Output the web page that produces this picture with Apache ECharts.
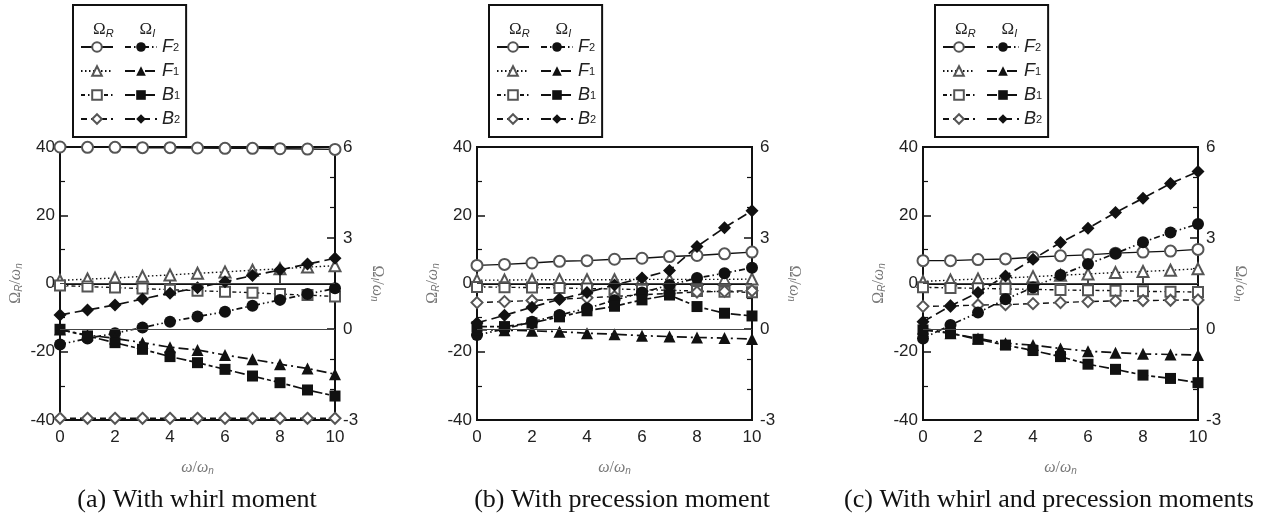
<!DOCTYPE html>
<html>
<head>
<meta charset="utf-8">
<script src="https://cdn.jsdelivr.net/npm/echarts@6/dist/echarts.min.js"></script>
<style>
html,body{margin:0;padding:0;background:#fff}
#chart{width:1267px;height:515px}
</style>
</head>
<body>
<div id="chart"></div>
<script>
/* rotation speed ratio w/wn */
var omega = [0, 1, 2, 3, 4, 5, 6, 7, 8, 9, 10];

/* (a) whirl moment : real parts (left axis) */
var aF2R = [40.0, 39.9, 39.9, 39.8, 39.8, 39.7, 39.6, 39.6, 39.5, 39.4, 39.3];
var aF1R = [0.9, 1.3, 1.6, 2.1, 2.5, 3.0, 3.4, 3.9, 4.3, 4.8, 5.2];
var aB1R = [-0.6, -0.9, -1.2, -1.5, -1.8, -2.1, -2.4, -2.7, -3.1, -3.4, -3.8];
var aB2R = [-39.5, -39.5, -39.5, -39.5, -39.5, -39.5, -39.5, -39.5, -39.5, -39.5, -39.5];
/* (a) imaginary parts (right axis) */
var aF2I = [-0.51, -0.31, -0.14, 0.05, 0.24, 0.41, 0.57, 0.77, 0.96, 1.15, 1.34];
var aF1I = [-0.02, -0.2, -0.31, -0.45, -0.6, -0.69, -0.86, -1.0, -1.16, -1.3, -1.49];
var aB1I = [-0.01, -0.23, -0.45, -0.67, -0.91, -1.11, -1.33, -1.55, -1.77, -2.01, -2.21];
var aB2I = [0.46, 0.63, 0.79, 0.99, 1.18, 1.36, 1.56, 1.76, 1.95, 2.14, 2.33];

/* (b) precession moment */
var bF2R = [5.3, 5.6, 6.0, 6.5, 6.7, 7.1, 7.4, 7.9, 8.2, 8.7, 9.2];
var bF1R = [1.0, 1.0, 1.1, 1.1, 1.1, 1.1, 1.2, 1.2, 1.2, 1.2, 1.3];
var bB1R = [-1.0, -1.1, -1.2, -1.3, -1.5, -1.6, -1.8, -2.0, -2.2, -2.4, -2.6];
var bB2R = [-5.6, -5.3, -5.0, -4.6, -4.2, -3.8, -3.3, -2.9, -2.5, -2.3, -2.1];
var bF2I = [-0.2, 0.0, 0.24, 0.46, 0.68, 0.95, 1.2, 1.45, 1.68, 1.84, 2.02];
var bF1I = [-0.02, -0.04, -0.06, -0.09, -0.14, -0.17, -0.22, -0.25, -0.28, -0.3, -0.33];
var bB1I = [0.08, 0.08, 0.2, 0.4, 0.6, 0.75, 0.96, 1.12, 0.74, 0.52, 0.43];
var bB2I = [0.2, 0.45, 0.72, 0.98, 1.2, 1.45, 1.68, 1.93, 2.72, 3.34, 3.9];

/* (c) whirl and precession moments */
var cF2R = [6.7, 6.7, 7.0, 7.2, 7.7, 8.1, 8.4, 8.9, 9.2, 9.5, 10.0];
var cF1R = [0.6, 1.0, 1.3, 1.6, 2.0, 2.4, 2.8, 3.2, 3.5, 3.9, 4.3];
var cB1R = [-1.1, -1.3, -1.4, -1.6, -1.7, -1.9, -2.0, -2.1, -2.3, -2.4, -2.5];
var cB2R = [-6.7, -6.6, -6.3, -6.2, -5.9, -5.6, -5.3, -5.1, -5.0, -4.9, -4.8];
var cF2I = [-0.31, 0.13, 0.54, 0.98, 1.37, 1.78, 2.14, 2.49, 2.86, 3.18, 3.46];
var cF1I = [0.02, -0.14, -0.31, -0.47, -0.53, -0.64, -0.73, -0.78, -0.82, -0.84, -0.86];
var cB1I = [-0.03, -0.14, -0.34, -0.53, -0.71, -0.91, -1.16, -1.33, -1.52, -1.63, -1.77];
var cB2I = [0.24, 0.76, 1.2, 1.75, 2.3, 2.85, 3.32, 3.84, 4.31, 4.8, 5.19];

/* axis ticks */
var xTicks = {min: 0, max: 10, interval: 2};
var leftTicks = {min: -40, max: 40, interval: 20};
var rightTicks = {min: -3, max: 6, interval: 3};

var captions = ['(a) With whirl moment', '(b) With precession moment', '(c) With whirl and precession moments'];

/* ESTILOS DE CADA MODO */
var kinds = {
	R_F2: {symbol: 'emptyCircle', size: 11, dash: 'solid'},
	R_F1: {symbol: 'emptyTriangle', size: 11, dash: [1.5, 2.5]},
	R_B1: {symbol: 'emptyRect', size: 10, dash: [4, 3, 1.5, 3]},
	R_B2: {symbol: 'emptyDiamond', size: 11, dash: [6, 4]},
	I_F2: {symbol: 'circle', size: 12, dash: [6, 3, 1.5, 3, 1.5, 3]},
	I_F1: {symbol: 'triangle', size: 12, dash: [10, 4, 2, 4]},
	I_B1: {symbol: 'rect', size: 11, dash: [10, 3, 4, 3]},
	I_B2: {symbol: 'diamond', size: 13, dash: [10, 5]}
};
var legendOrder = ['R_F2', 'I_F2', 'R_F1', 'I_F1', 'R_B1', 'I_B1', 'R_B2', 'I_B2'];
var legendText = {I_F2: '{i|F}{s|2}', I_F1: '{i|F}{s|1}', I_B1: '{i|B}{s|1}', I_B2: '{i|B}{s|2}'};

var panels = [
	{left: 60, vals: {R_F2: aF2R, R_F1: aF1R, R_B1: aB1R, R_B2: aB2R, I_F2: aF2I, I_F1: aF1I, I_B1: aB1I, I_B2: aB2I}, legend: 73, cap: 192},
	{left: 477, vals: {R_F2: bF2R, R_F1: bF1R, R_B1: bB1R, R_B2: bB2R, I_F2: bF2I, I_F1: bF1I, I_B1: bB1I, I_B2: bB2I}, legend: 489, cap: 617},
	{left: 923, vals: {R_F2: cF2R, R_F1: cF1R, R_B1: cB1R, R_B2: cB2R, I_F2: cF2I, I_F1: cF1I, I_B1: cB1I, I_B2: cB2I}, legend: 935, cap: 1044}
];

/* subindices: caja baja al fondo de la linea */
var subRich = {
	o: {fontSize: 16, fontFamily: 'Liberation Serif', color: '#777', lineHeight: 16},
	w: {fontSize: 16, fontFamily: 'Liberation Serif', fontStyle: 'italic', color: '#777', lineHeight: 16},
	s: {fontSize: 10, fontFamily: 'Liberation Sans', fontStyle: 'italic', color: '#777', verticalAlign: 'bottom', lineHeight: 5}
};

var grids = [], xAxes = [], yAxes = [], series = [], legends = [], titles = [];

function tickAxis(extra) {
	var base = {
		type: 'value',
		axisLine: {show: true, lineStyle: {color: '#111', width: 2}},
		axisTick: {show: true, inside: true, length: 8, lineStyle: {color: '#111', width: 1.5}},
		minorTick: {show: true, length: 4, lineStyle: {color: '#111', width: 1.2}},
		splitLine: {show: false},
		axisLabel: {fontFamily: 'Liberation Sans', fontSize: 17, color: '#222'}
	};
	return Object.assign(base, extra);
}

panels.forEach(function (p, n) {
	grids.push({left: p.left, top: 147, width: 275, height: 273, show: true, borderColor: '#111', borderWidth: 2, backgroundColor: 'transparent'});

	xAxes.push(tickAxis({gridIndex: n, min: xTicks.min, max: xTicks.max, interval: xTicks.interval,
		minorTick: {show: false},
		axisLabel: {fontFamily: 'Liberation Sans', fontSize: 17, color: '#222', margin: 9},
		name: '{w|ω}{o|/}{w|ω}{s|n}', nameLocation: 'middle', nameGap: 40,
		nameTextStyle: {rich: subRich}}));

	yAxes.push(tickAxis({gridIndex: n, position: 'left', min: leftTicks.min, max: leftTicks.max, interval: leftTicks.interval,
		minorTick: {show: true, splitNumber: 2, length: 5, lineStyle: {color: '#111', width: 1.2}},
		axisLabel: {fontFamily: 'Liberation Sans', fontSize: 17, color: '#222', margin: 5},
		name: '{o|Ω}{s|R}{o|/}{w|ω}{s|n}', nameLocation: 'middle', nameRotate: 90, nameGap: 36,
		nameTextStyle: {rich: subRich}}));

	yAxes.push(tickAxis({gridIndex: n, position: 'right', min: rightTicks.min, max: rightTicks.max, interval: rightTicks.interval,
		minorTick: {show: true, splitNumber: 3, length: 5, lineStyle: {color: '#111', width: 1.2}},
		axisLabel: {fontFamily: 'Liberation Sans', fontSize: 17, color: '#222', margin: 8},
		name: '{o|Ω}{s|I}{o|/}{w|ω}{s|n}', nameLocation: 'middle', nameRotate: -90, nameGap: 34,
		nameTextStyle: {rich: subRich}}));

	Object.keys(kinds).forEach(function (k) {
		var st = kinds[k];
		var isR = k.charAt(0) === 'R';
		var s = {
			type: 'line', name: k,
			xAxisIndex: n, yAxisIndex: n * 2 + (isR ? 0 : 1),
			data: omega.map(function (x, j) { return [x, p.vals[k][j]]; }),
			symbol: st.symbol, symbolSize: st.size, showAllSymbol: true,
			clip: false, animation: false,
			lineStyle: {color: '#111', width: isR ? 1.4 : 1.7, type: st.dash},
			itemStyle: {color: isR ? '#555' : '#111', borderWidth: isR ? 1.2 : 0},
			z: isR ? 3 : 4
		};
		if (k === 'R_F2' || k === 'I_F2') {
			s.markLine = {silent: true, symbol: ['none', 'none'], label: {show: false},
				lineStyle: {color: '#444', width: 1, type: 'solid'}, data: [{yAxis: 0}]};
		}
		series.push(s);
	});

	legends.push({
		left: p.legend, top: 5, width: 125, orient: 'horizontal',
		padding: [33, 6, 9, 7], itemGap: 6, itemWidth: 32, itemHeight: 12,
		borderColor: '#111', borderWidth: 2, selectedMode: false,
		data: legendOrder,
		formatter: function (name) { return legendText[name] || ''; },
		textStyle: {
			padding: 0, lineHeight: 12,
			rich: {
				i: {fontSize: 18, fontFamily: 'Liberation Sans', fontStyle: 'italic', color: '#222', lineHeight: 12},
				s: {fontSize: 11, fontFamily: 'Liberation Sans', color: '#222', verticalAlign: 'bottom', lineHeight: 2}
			}
		}
	});

	titles.push({
		text: '{o|Ω}{s|R}{g|}{o|Ω}{s|I}', left: p.legend + 15, top: 16,
		textStyle: {fontWeight: 'normal', rich: {
			o: {fontSize: 17, fontFamily: 'Liberation Serif', fontWeight: 'normal', color: '#222', lineHeight: 17},
			s: {fontSize: 11, fontFamily: 'Liberation Sans', fontStyle: 'italic', fontWeight: 'normal', color: '#222', verticalAlign: 'bottom', lineHeight: 5},
			g: {width: 26}
		}}
	});
	titles.push({
		text: captions[n], left: p.cap, top: 482, textAlign: 'center',
		textStyle: {fontFamily: 'Liberation Serif', fontSize: 26, fontWeight: 'normal', color: '#111'}
	});
});

var myChart = echarts.init(document.getElementById('chart'));
myChart.setOption({
	animation: false,
	backgroundColor: '#fff',
	title: titles,
	legend: legends,
	grid: grids,
	xAxis: xAxes,
	yAxis: yAxes,
	series: series
});
</script>
</body>
</html>
